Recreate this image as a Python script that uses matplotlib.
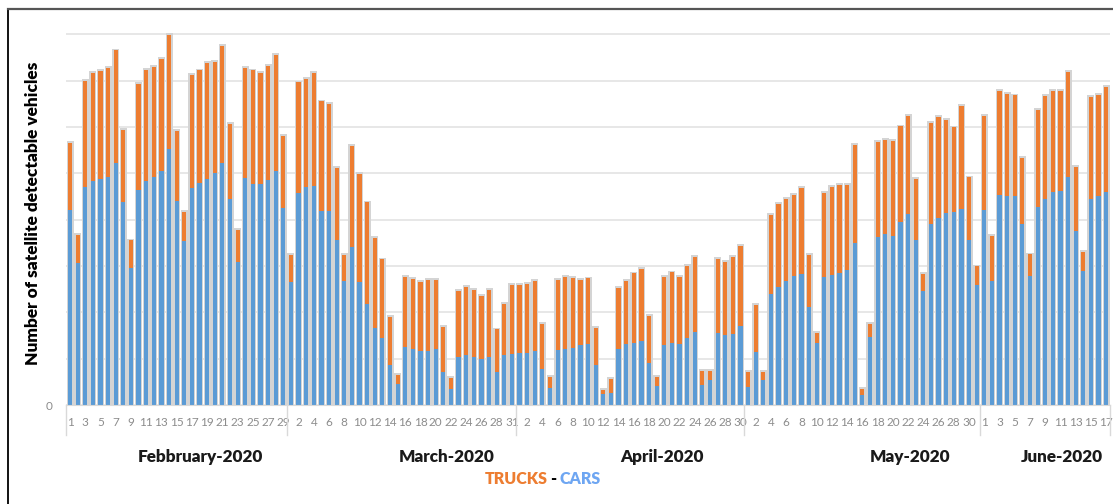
import numpy as np
import matplotlib
matplotlib.use("Agg")
import matplotlib.pyplot as plt
from matplotlib.lines import Line2D

plt.rcParams["font.family"] = ["Lato", "DejaVu Sans"]

# ── data (one bar per day) ───────────────────────────────────
feb_days = list(range(1, 30))
mar_days = list(range(1, 29)) + [30, 31]  # one March day is missing in the source
apr_days = list(range(1, 31))
may_days = list(range(1, 32))
jun_days = list(range(1, 18))

feb_cars = [421, 306, 470, 484, 488, 493, 522, 439, 296, 463, 484, 491, 504, 553, 440,
            354, 468, 478, 488, 500, 523, 445, 309, 489, 476, 476, 486, 506, 426]
feb_trucks = [144, 61, 229, 233, 233, 235, 243, 155, 59, 229, 239, 239, 242, 246, 151,
              63, 244, 244, 251, 241, 252, 161, 69, 238, 246, 241, 246, 249, 155]

mar_cars = [266, 458, 470, 473, 419, 419, 355, 268, 340, 266, 219, 167, 144, 86, 45,
            126, 120, 117, 117, 120, 71, 34, 104, 108, 104, 99, 104, 71, 108, 109]
mar_trucks = [58, 238, 234, 243, 236, 231, 156, 56, 219, 233, 218, 193, 170, 104, 20,
              150, 152, 149, 153, 150, 98, 25, 143, 147, 144, 136, 144, 92, 111, 150]

apr_cars = [112, 112, 117, 77, 37, 119, 121, 122, 129, 132, 86, 23, 25, 120, 132,
            133, 138, 91, 40, 129, 133, 132, 144, 157, 43, 54, 156, 150, 153, 171]
apr_trucks = [147, 150, 151, 98, 23, 151, 156, 153, 141, 141, 81, 9, 31, 132, 136,
              151, 155, 101, 20, 147, 153, 145, 157, 162, 31, 20, 159, 159, 166, 172]

may_cars = [38, 115, 54, 239, 255, 268, 278, 283, 212, 133, 276, 281, 284, 291, 349, 22,
            147, 363, 368, 365, 394, 412, 356, 247, 391, 403, 414, 417, 424, 356, 259]
may_trucks = [34, 101, 17, 171, 179, 176, 175, 185, 112, 22, 182, 190, 191, 184, 212, 13,
              28, 204, 204, 205, 207, 212, 131, 35, 218, 218, 201, 182, 221, 135, 40]

jun_cars = [421, 268, 453, 450, 452, 390, 279, 427, 445, 460, 462, 491, 376, 289, 445, 450, 460]
jun_trucks = [203, 97, 225, 221, 216, 144, 46, 210, 222, 218, 216, 227, 138, 42, 219, 219, 226]

month_names = ["Febbruary-2020", "March-2020", "April-2020", "May-2020", "June-2020"]
month_label_x = [17.1, 49.5, 77.7, 110.2, 130.2]

days = feb_days + mar_days + apr_days + may_days + jun_days
cars = np.array(feb_cars + mar_cars + apr_cars + may_cars + jun_cars)
trucks = np.array(feb_trucks + mar_trucks + apr_trucks + may_trucks + jun_trucks)
month_sizes = [len(feb_days), len(mar_days), len(apr_days), len(may_days), len(jun_days)]

x = np.arange(len(days))

# ── figure ───────────────────────────────────────────────────
W, H = 1113, 504
fig = plt.figure(figsize=(W / 100, H / 100), dpi=100)
ax = fig.add_axes([66.2 / W, 99 / H, (1110 - 66.2) / W, 380 / H])

BLUE = "#5b9bd5"
ORANGE = "#ed7d31"

# soft grey shadow behind each bar, then the stacked bars
ax.bar(x, cars + trucks + 4, width=0.92, color="#d4d4d4", zorder=1)
ax.bar(x, cars, width=0.55, color=BLUE, zorder=2)
ax.bar(x, trucks, bottom=cars, width=0.55, color=ORANGE, zorder=2)

ax.set_xlim(-0.5, len(days) - 0.5)
ax.set_ylim(0, 820)

ax.set_yticks(np.arange(0, 801, 100))
ax.set_yticklabels(["0"] + [""] * 8)
ax.yaxis.grid(True, color="#e3e3e3", linewidth=1.2, zorder=0)
ax.set_axisbelow(True)
ax.tick_params(axis="y", length=0, pad=10, labelsize=8.5, labelcolor="#8c8c8c")

ax.set_xticks(x[::2])
ax.set_xticklabels([str(d) for d in days[::2]])
ax.tick_params(axis="x", length=0, pad=9, labelsize=8.5, labelcolor="#8c8c8c")

for side in ["top", "right", "left"]:
    ax.spines[side].set_visible(False)
ax.spines["bottom"].set_color("#d9d9d9")

# month separators running through the day labels
bounds = np.concatenate([[0], np.cumsum(month_sizes)]) - 0.5
for b in bounds:
    ax.plot([b, b], [0, -0.079], transform=ax.get_xaxis_transform(),
            color="#d9d9d9", linewidth=1, clip_on=False)

for name, mx in zip(month_names, month_label_x):
    ax.text(mx, -0.137, name, transform=ax.get_xaxis_transform(),
            ha="center", va="center", fontsize=12.3, fontweight="heavy", color="#1a1a1a")

fig.text(33.5 / W, 1 - 213 / H, "Number of satellite detectable vehicles",
         rotation=90, ha="center", va="center", fontsize=12.4, fontweight="heavy")

# legend line under the chart
ly = 1 - 479 / H
fig.text(548 / W, ly, "TRUCKS", ha="right", va="center", fontsize=11.5,
         fontweight="heavy", color=ORANGE)
fig.text(553.5 / W, ly, "-", ha="center", va="center", fontsize=11.5,
         fontweight="heavy", color="black")
fig.text(559 / W, ly, "CARS", ha="left", va="center", fontsize=11.5,
         fontweight="heavy", color="#6ea6f2")

# outer frame (left and top edges visible)
fig.add_artist(Line2D([7.5 / W, 7.5 / W], [0, 1 - 8.5 / H], color="black", linewidth=1.3))
fig.add_artist(Line2D([7.5 / W, 1], [1 - 8.5 / H, 1 - 8.5 / H], color="#555555", linewidth=1.6))

fig.savefig("out.png", dpi=100)
